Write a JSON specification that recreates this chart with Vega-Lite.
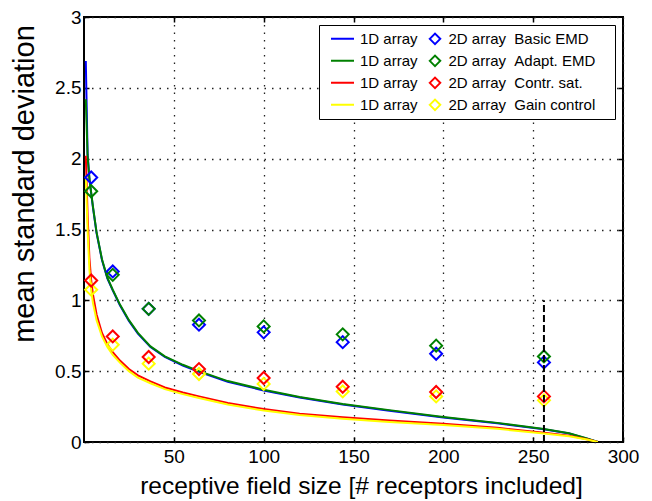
{
  "$schema": "https://vega.github.io/schema/vega-lite/v6.json",
  "autosize": {"type": "none"},
  "width": 539,
  "height": 425,
  "padding": {"left": 84, "top": 17, "right": 29, "bottom": 59},
  "background": "white",
  "config": {
    "font": "Liberation Sans",
    "view": {"stroke": "black", "strokeWidth": 2},
    "axis": {
      "labelFont": "Liberation Sans",
      "labelFontSize": 19,
      "labelColor": "black",
      "titleFont": "Liberation Sans",
      "titleColor": "black",
      "titleFontWeight": "normal",
      "tickColor": "black",
      "tickSize": -5,
      "tickWidth": 1.5,
      "domain": false,
      "gridColor": "#222222",
      "gridDash": [1.5, 6],
      "gridWidth": 1.3,
      "gridOpacity": 1
    }
  },
  "datasets": {
    "curves": [
      {"model": "Basic EMD", "x": 1, "y": 2.69},
      {"model": "Basic EMD", "x": 2, "y": 2.03},
      {"model": "Basic EMD", "x": 3, "y": 1.86},
      {"model": "Basic EMD", "x": 4, "y": 1.755},
      {"model": "Basic EMD", "x": 5, "y": 1.655},
      {"model": "Basic EMD", "x": 7, "y": 1.475},
      {"model": "Basic EMD", "x": 10, "y": 1.285},
      {"model": "Basic EMD", "x": 13, "y": 1.155},
      {"model": "Basic EMD", "x": 16, "y": 1.07},
      {"model": "Basic EMD", "x": 20, "y": 0.965},
      {"model": "Basic EMD", "x": 25, "y": 0.855},
      {"model": "Basic EMD", "x": 30, "y": 0.765},
      {"model": "Basic EMD", "x": 37, "y": 0.67},
      {"model": "Basic EMD", "x": 45, "y": 0.6},
      {"model": "Basic EMD", "x": 55, "y": 0.54},
      {"model": "Basic EMD", "x": 64, "y": 0.495},
      {"model": "Basic EMD", "x": 80, "y": 0.425},
      {"model": "Basic EMD", "x": 100, "y": 0.364},
      {"model": "Basic EMD", "x": 120, "y": 0.314},
      {"model": "Basic EMD", "x": 144, "y": 0.264},
      {"model": "Basic EMD", "x": 170, "y": 0.221},
      {"model": "Basic EMD", "x": 200, "y": 0.173},
      {"model": "Basic EMD", "x": 230, "y": 0.132},
      {"model": "Basic EMD", "x": 256, "y": 0.09},
      {"model": "Basic EMD", "x": 270, "y": 0.06},
      {"model": "Basic EMD", "x": 280, "y": 0.024},
      {"model": "Basic EMD", "x": 286, "y": 0},
      {"model": "Adapt. EMD", "x": 1, "y": 2.42},
      {"model": "Adapt. EMD", "x": 2, "y": 2.02},
      {"model": "Adapt. EMD", "x": 3, "y": 1.86},
      {"model": "Adapt. EMD", "x": 4, "y": 1.76},
      {"model": "Adapt. EMD", "x": 5, "y": 1.66},
      {"model": "Adapt. EMD", "x": 7, "y": 1.48},
      {"model": "Adapt. EMD", "x": 10, "y": 1.29},
      {"model": "Adapt. EMD", "x": 13, "y": 1.16},
      {"model": "Adapt. EMD", "x": 16, "y": 1.075},
      {"model": "Adapt. EMD", "x": 20, "y": 0.97},
      {"model": "Adapt. EMD", "x": 25, "y": 0.86},
      {"model": "Adapt. EMD", "x": 30, "y": 0.77},
      {"model": "Adapt. EMD", "x": 37, "y": 0.675},
      {"model": "Adapt. EMD", "x": 45, "y": 0.605},
      {"model": "Adapt. EMD", "x": 55, "y": 0.545},
      {"model": "Adapt. EMD", "x": 64, "y": 0.5},
      {"model": "Adapt. EMD", "x": 80, "y": 0.43},
      {"model": "Adapt. EMD", "x": 100, "y": 0.369},
      {"model": "Adapt. EMD", "x": 120, "y": 0.318},
      {"model": "Adapt. EMD", "x": 144, "y": 0.268},
      {"model": "Adapt. EMD", "x": 170, "y": 0.225},
      {"model": "Adapt. EMD", "x": 200, "y": 0.176},
      {"model": "Adapt. EMD", "x": 230, "y": 0.135},
      {"model": "Adapt. EMD", "x": 256, "y": 0.092},
      {"model": "Adapt. EMD", "x": 270, "y": 0.062},
      {"model": "Adapt. EMD", "x": 280, "y": 0.025},
      {"model": "Adapt. EMD", "x": 286, "y": 0},
      {"model": "Contr. sat.", "x": 1, "y": 2.02},
      {"model": "Contr. sat.", "x": 2, "y": 1.6},
      {"model": "Contr. sat.", "x": 3, "y": 1.3},
      {"model": "Contr. sat.", "x": 4, "y": 1.14},
      {"model": "Contr. sat.", "x": 5, "y": 1.04},
      {"model": "Contr. sat.", "x": 7, "y": 0.9},
      {"model": "Contr. sat.", "x": 10, "y": 0.77},
      {"model": "Contr. sat.", "x": 13, "y": 0.69},
      {"model": "Contr. sat.", "x": 16, "y": 0.635},
      {"model": "Contr. sat.", "x": 20, "y": 0.575},
      {"model": "Contr. sat.", "x": 25, "y": 0.515},
      {"model": "Contr. sat.", "x": 30, "y": 0.47},
      {"model": "Contr. sat.", "x": 37, "y": 0.428},
      {"model": "Contr. sat.", "x": 45, "y": 0.385},
      {"model": "Contr. sat.", "x": 55, "y": 0.35},
      {"model": "Contr. sat.", "x": 64, "y": 0.322},
      {"model": "Contr. sat.", "x": 80, "y": 0.275},
      {"model": "Contr. sat.", "x": 100, "y": 0.233},
      {"model": "Contr. sat.", "x": 120, "y": 0.2},
      {"model": "Contr. sat.", "x": 144, "y": 0.174},
      {"model": "Contr. sat.", "x": 170, "y": 0.152},
      {"model": "Contr. sat.", "x": 200, "y": 0.128},
      {"model": "Contr. sat.", "x": 230, "y": 0.1},
      {"model": "Contr. sat.", "x": 256, "y": 0.066},
      {"model": "Contr. sat.", "x": 270, "y": 0.045},
      {"model": "Contr. sat.", "x": 280, "y": 0.02},
      {"model": "Contr. sat.", "x": 286, "y": 0},
      {"model": "Gain control", "x": 1, "y": 1.88},
      {"model": "Gain control", "x": 2, "y": 1.5},
      {"model": "Gain control", "x": 3, "y": 1.22},
      {"model": "Gain control", "x": 4, "y": 1.07},
      {"model": "Gain control", "x": 5, "y": 0.98},
      {"model": "Gain control", "x": 7, "y": 0.86},
      {"model": "Gain control", "x": 10, "y": 0.745},
      {"model": "Gain control", "x": 13, "y": 0.67},
      {"model": "Gain control", "x": 16, "y": 0.615},
      {"model": "Gain control", "x": 20, "y": 0.56},
      {"model": "Gain control", "x": 25, "y": 0.5},
      {"model": "Gain control", "x": 30, "y": 0.455},
      {"model": "Gain control", "x": 37, "y": 0.415},
      {"model": "Gain control", "x": 45, "y": 0.373},
      {"model": "Gain control", "x": 55, "y": 0.338},
      {"model": "Gain control", "x": 64, "y": 0.31},
      {"model": "Gain control", "x": 80, "y": 0.265},
      {"model": "Gain control", "x": 100, "y": 0.222},
      {"model": "Gain control", "x": 120, "y": 0.19},
      {"model": "Gain control", "x": 144, "y": 0.164},
      {"model": "Gain control", "x": 170, "y": 0.142},
      {"model": "Gain control", "x": 200, "y": 0.12},
      {"model": "Gain control", "x": 230, "y": 0.093},
      {"model": "Gain control", "x": 256, "y": 0.06},
      {"model": "Gain control", "x": 270, "y": 0.04},
      {"model": "Gain control", "x": 280, "y": 0.017},
      {"model": "Gain control", "x": 286, "y": 0}
    ],
    "points": [
      {"model": "Basic EMD", "x": 4, "y": 1.867},
      {"model": "Basic EMD", "x": 16, "y": 1.204},
      {"model": "Basic EMD", "x": 36, "y": 0.94},
      {"model": "Basic EMD", "x": 64, "y": 0.828},
      {"model": "Basic EMD", "x": 100, "y": 0.774},
      {"model": "Basic EMD", "x": 144, "y": 0.705},
      {"model": "Basic EMD", "x": 196, "y": 0.623},
      {"model": "Basic EMD", "x": 256, "y": 0.562},
      {"model": "Adapt. EMD", "x": 4, "y": 1.77},
      {"model": "Adapt. EMD", "x": 16, "y": 1.18},
      {"model": "Adapt. EMD", "x": 36, "y": 0.94},
      {"model": "Adapt. EMD", "x": 64, "y": 0.858},
      {"model": "Adapt. EMD", "x": 100, "y": 0.816},
      {"model": "Adapt. EMD", "x": 144, "y": 0.76},
      {"model": "Adapt. EMD", "x": 196, "y": 0.68},
      {"model": "Adapt. EMD", "x": 256, "y": 0.604},
      {"model": "Gain control", "x": 4, "y": 1.075},
      {"model": "Gain control", "x": 16, "y": 0.687},
      {"model": "Gain control", "x": 36, "y": 0.553},
      {"model": "Gain control", "x": 64, "y": 0.48},
      {"model": "Gain control", "x": 100, "y": 0.41},
      {"model": "Gain control", "x": 144, "y": 0.357},
      {"model": "Gain control", "x": 196, "y": 0.322},
      {"model": "Gain control", "x": 256, "y": 0.294},
      {"model": "Contr. sat.", "x": 4, "y": 1.14},
      {"model": "Contr. sat.", "x": 16, "y": 0.745},
      {"model": "Contr. sat.", "x": 36, "y": 0.6},
      {"model": "Contr. sat.", "x": 64, "y": 0.515},
      {"model": "Contr. sat.", "x": 100, "y": 0.452},
      {"model": "Contr. sat.", "x": 144, "y": 0.39},
      {"model": "Contr. sat.", "x": 196, "y": 0.353},
      {"model": "Contr. sat.", "x": 256, "y": 0.322}
    ],
    "marker": [
      {"x": 256, "y": 0, "y2": 1}
    ]
  },
  "resolve": {"axis": {"x": "independent", "y": "independent"}},
  "layer": [
    {
      "data": {"name": "curves"},
      "mark": {"type": "line", "strokeWidth": 2, "clip": true},
      "encoding": {
        "x": {
          "field": "x", "type": "quantitative",
          "scale": {"domain": [0, 300], "nice": false, "zero": false},
          "axis": {
            "orient": "bottom",
            "values": [50, 100, 150, 200, 250, 300],
            "format": "d",
            "grid": true,
            "labelFlush": false,
            "labelPadding": 10,
            "title": "receptive field size [# receptors included]",
            "titleFontSize": 24.5,
            "titleX": 277,
            "titleY": 51,
            "titleAlign": "center",
            "titleBaseline": "alphabetic"
          }
        },
        "y": {
          "field": "y", "type": "quantitative",
          "scale": {"domain": [0, 3], "nice": false, "zero": false},
          "axis": {
            "orient": "left",
            "values": [0, 0.5, 1, 1.5, 2, 2.5, 3],
            "format": "~g",
            "grid": true,
            "labelPadding": 8,
            "title": "mean standard deviation",
            "titleFontSize": 29,
            "titleAngle": 270,
            "titleX": -51,
            "titleY": 166.5,
            "titleAlign": "center",
            "titleBaseline": "alphabetic"
          }
        },
        "color": {
          "field": "model", "type": "nominal",
          "sort": null,
          "scale": {
            "range": ["#0000FF", "#008000", "#FF0000", "#FFFF00"]
          },
          "legend": {
            "orient": "none",
            "legendX": 246,
            "legendY": 11,
            "zindex": 1,
            "direction": "vertical",
            "title": null,
            "padding": 0,
            "symbolType": "stroke",
            "symbolSize": 529,
            "symbolStrokeWidth": 2,
            "symbolOffset": 0,
            "labelOffset": 5,
            "labelFont": "Liberation Sans",
            "labelFontSize": 15,
            "labelColor": "black",
            "labelLimit": 500,
            "labelExpr": "'1D array'",
            "clipHeight": 21.7,
            "rowPadding": 0
          }
        }
      }
    },
    {
      "data": {"name": "points"},
      "mark": {"type": "point", "shape": "diamond", "filled": false, "size": 144, "strokeWidth": 2, "opacity": 1},
      "encoding": {
        "x": {
          "field": "x", "type": "quantitative",
          "axis": {"orient": "top", "values": [50, 100, 150, 200, 250], "labels": false, "grid": false, "title": null}
        },
        "y": {
          "field": "y", "type": "quantitative",
          "axis": {"orient": "right", "values": [0.5, 1, 1.5, 2, 2.5], "labels": false, "grid": false, "title": null}
        },
        "stroke": {
          "field": "model", "type": "nominal",
          "scale": {
            "domain": ["Basic EMD", "Adapt. EMD", "Contr. sat.", "Gain control"],
            "range": ["#0000FF", "#008000", "#FF0000", "#FFFF00"]
          },
          "legend": {
            "orient": "none",
            "legendX": 235,
            "legendY": 8,
            "zindex": 0,
            "direction": "vertical",
            "title": null,
            "padding": 3,
            "strokeColor": "black",
            "fillColor": "white",
            "symbolType": "diamond",
            "symbolSize": 110,
            "symbolStrokeWidth": 2,
            "symbolOffset": 105.5,
            "symbolOpacity": 1,
            "labelOffset": 6,
            "labelFont": "Liberation Sans",
            "labelFontSize": 15,
            "labelColor": "black",
            "labelLimit": 500,
            "labelExpr": "'2D array\u00a0\u00a0' + datum.label + '\u00a0\u00a0\u00a0\u00a0\u200b'",
            "clipHeight": 21.7,
            "rowPadding": 0,
            "encode": {"legend": {"update": {"strokeWidth": {"value": 1.5}}}}
          }
        }
      }
    },
    {
      "data": {"name": "marker"},
      "mark": {"type": "rule", "color": "black", "strokeWidth": 2, "strokeDash": [7, 3]},
      "encoding": {
        "x": {"field": "x", "type": "quantitative", "axis": null},
        "y": {"field": "y", "type": "quantitative", "axis": null},
        "y2": {"field": "y2"}
      }
    }
  ]
}
